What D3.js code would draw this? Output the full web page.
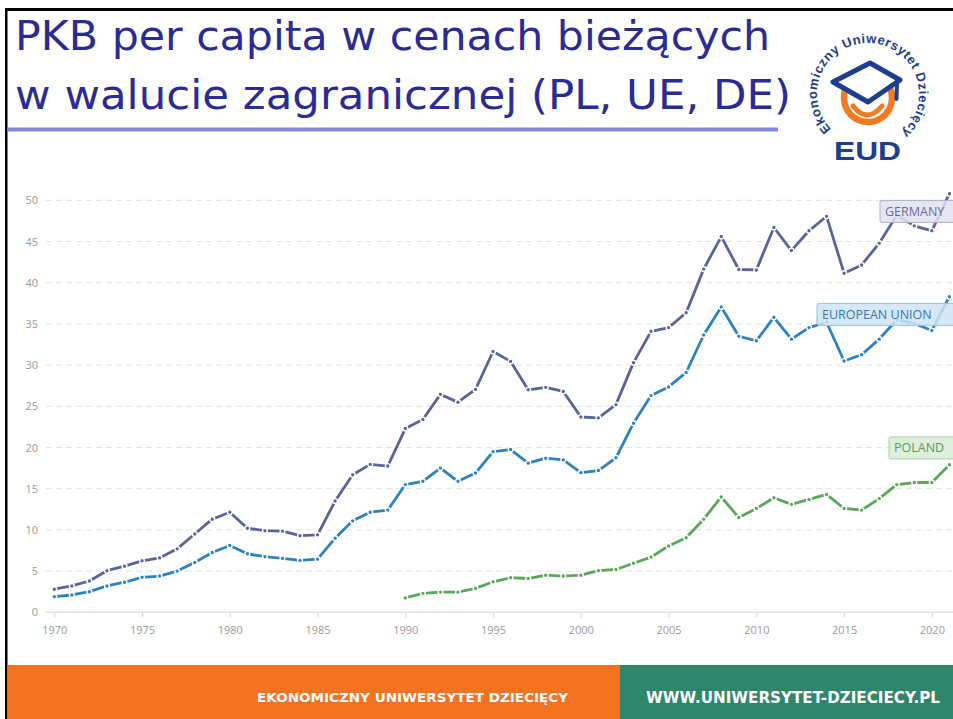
<!DOCTYPE html>
<html>
<head>
<meta charset="utf-8">
<script src="https://cdn.jsdelivr.net/npm/d3@7"></script>
<style>
  body { margin: 0; background: #fff; }
  svg { display: block; }
</style>
</head>
<body>
<div id="chart"></div>
<script>
// values, thousands of USD per person
const years = d3.range(1970, 2022)
const germany = [2.8, 3.2, 3.8, 5.05, 5.6, 6.25, 6.6, 7.7, 9.5, 11.3, 12.15, 10.2, 9.9, 9.85, 9.3, 9.4,
  13.5, 16.7, 17.95, 17.75, 22.3, 23.4, 26.45, 25.5, 27.05, 31.65, 30.45, 27.0, 27.3, 26.8,
  23.7, 23.6, 25.2, 30.3, 34.1, 34.55, 36.35, 41.65, 45.6, 41.6, 41.55, 46.7, 43.9, 46.3,
  48.05, 41.15, 42.15, 44.8, 48.2, 46.9, 46.3, 50.8]
const eu = [1.9, 2.1, 2.5, 3.2, 3.65, 4.25, 4.4, 5.0, 6.05, 7.25, 8.1, 7.1, 6.75, 6.55, 6.3, 6.45,
  9.0, 11.1, 12.15, 12.4, 15.5, 15.9, 17.5, 15.9, 16.9, 19.5, 19.75, 18.1, 18.7, 18.5,
  16.95, 17.2, 18.75, 22.95, 26.3, 27.35, 29.1, 33.65, 37.05, 33.5, 32.95, 35.8, 33.15, 34.55,
  35.2, 30.5, 31.25, 33.15, 35.5, 35.05, 34.2, 38.3]
const poland = [null, null, null, null, null, null, null, null, null, null, null, null, null, null, null, null,
  null, null, null, null, 1.75, 2.3, 2.45, 2.45, 2.9, 3.7, 4.2, 4.1, 4.5, 4.4,
  4.5, 5.05, 5.2, 5.95, 6.7, 8.05, 9.05, 11.3, 14.0, 11.5, 12.6, 13.9, 13.1, 13.7,
  14.3, 12.6, 12.4, 13.8, 15.5, 15.75, 15.75, 17.9]
const seriesNames = ["GERMANY", "EUROPEAN UNION", "POLAND"]
const yTicks = d3.range(0, 55, 5)
const xTicks = d3.range(1970, 2025, 5)

const W = 953, H = 719
const svg = d3.select("#chart").append("svg")
  .attr("width", W)
  .attr("height", H)

// slide frame
svg.append("rect").attr("x", 5).attr("y", 8).attr("width", W - 5).attr("height", 3).attr("fill", "#000")
svg.append("rect").attr("x", 5).attr("y", 8).attr("width", 2.5).attr("height", H - 8).attr("fill", "#000")

// title
let title = svg.append("g")
  .attr("font-family", "DejaVu Sans")
  .attr("font-size", 40)
  .attr("fill", "#2b2b96")
title.append("text").attr("x", 15).attr("y", 50)
  .attr("textLength", 755).attr("lengthAdjust", "spacingAndGlyphs")
  .text("PKB per capita w cenach bieżących")
title.append("text").attr("x", 15).attr("y", 109)
  .attr("textLength", 776).attr("lengthAdjust", "spacingAndGlyphs")
  .text("w walucie zagranicznej (PL, UE, DE)")
svg.append("rect").attr("x", 7).attr("y", 127.5).attr("width", 771).attr("height", 4).attr("fill", "#8585dc")

// logo
let logo = svg.append("g").attr("transform", "translate(868, 94)")
let navy = "#1d3d8f", orange = "#f47a20"

// circular caption, one letter at a time
let r = 51
let a0 = -134 * Math.PI / 180, a1 = 139 * Math.PI / 180
let caption = "Ekonomiczny Uniwersytet Dziecięcy".split("").map(c => c == " " ? "\u00a0" : c)
let capG = logo.append("g")
  .attr("font-family", "Liberation Sans")
  .attr("font-weight", "bold")
  .attr("font-size", 13)
  .attr("fill", navy)
let letters = capG.selectAll("text").data(caption).join("text")
  .attr("text-anchor", "middle")
  .text(d => d)
let widths = []
letters.each(function() { widths.push(this.getComputedTextLength()) })
let gap = (r * (a1 - a0) - d3.sum(widths)) / (caption.length - 1)
let run = 0
letters.attr("transform", (d, i) => {
  let t = a0 + (run + widths[i] / 2) / r
  run += widths[i] + gap
  let deg = t * 180 / Math.PI
  return `translate(${r * Math.sin(t)},${-r * Math.cos(t)}) rotate(${deg})`
})

logo.append("circle").attr("cx", 0).attr("cy", 4).attr("r", 24)
  .attr("fill", "none").attr("stroke", orange).attr("stroke-width", 6.5)
logo.append("path").attr("d", "M-15,12 Q-1,30 14,12")
  .attr("fill", "none").attr("stroke", orange).attr("stroke-width", 5).attr("stroke-linecap", "round")
logo.append("path").attr("d", "M2,-31 L-35,-12 L0,8 L32,-14 Z")
  .attr("fill", "#fff").attr("stroke", navy).attr("stroke-width", 5).attr("stroke-linejoin", "round")
logo.append("path").attr("d", "M29,-12 L28.5,5")
  .attr("stroke", navy).attr("stroke-width", 4).attr("stroke-linecap", "round")
logo.append("text")
  .attr("x", -34).attr("y", 66)
  .attr("textLength", 67).attr("lengthAdjust", "spacingAndGlyphs")
  .attr("font-family", "Liberation Sans")
  .attr("font-weight", "bold")
  .attr("font-size", 26)
  .attr("fill", navy)
  .text("EUD")

// chart
let x = d3.scaleLinear().domain([1970, 2021]).range([54.3, 949.4])
let y = d3.scaleLinear().domain([0, 50]).range([612.3, 200.3])

let grid = svg.append("g")
grid.selectAll("line").data(yTicks.filter(d => d > 0)).join("line")
  .attr("x1", 46).attr("x2", W)
  .attr("y1", d => y(d)).attr("y2", d => y(d))
  .attr("stroke", "#e2e2e2")
  .attr("stroke-dasharray", "6,4")

svg.append("line")
  .attr("x1", 46).attr("x2", W)
  .attr("y1", y(0)).attr("y2", y(0))
  .attr("stroke", "#dde2ea").attr("stroke-width", 1.5)

let yAxis = svg.append("g")
  .attr("transform", "translate(38,0)")
  .call(d3.axisLeft(y).tickValues(yTicks).tickSize(0).tickPadding(0))
  .call(g => g.select(".domain").remove())
  .call(g => g.selectAll(".tick text")
    .attr("font-family", "Open Sans")
    .attr("font-size", 11)
    .attr("fill", "#9a9a9a"))

let xAxis = svg.append("g")
  .attr("transform", `translate(0,${y(0) + 1})`)
  .call(d3.axisBottom(x).tickValues(xTicks).tickSize(4).tickPadding(9).tickFormat(d3.format("d")))
  .call(g => g.select(".domain").remove())
  .call(g => g.selectAll(".tick line").attr("stroke", "#d0d0d0"))
  .call(g => g.selectAll(".tick text")
    .attr("font-family", "Open Sans")
    .attr("font-size", 11)
    .attr("fill", "#9a9a9a"))

let series = [
  { name: seriesNames[0], values: germany, color: "#596599" },
  { name: seriesNames[1], values: eu, color: "#2d82c0" },
  { name: seriesNames[2], values: poland, color: "#5ea55c" }
]

let line = d3.line()
  .defined(d => d.v != null)
  .x(d => x(d.year))
  .y(d => y(d.v))

series.forEach(s => {
  let pts = years.map((year, i) => ({ year, v: s.values[i] }))
  let g = svg.append("g")
  g.append("path")
    .attr("d", line(pts))
    .attr("fill", "none")
    .attr("stroke", s.color)
    .attr("stroke-width", 2.8)
    .attr("stroke-linejoin", "round")
  g.selectAll("circle").data(pts.filter(d => d.v != null)).join("circle")
    .attr("cx", d => x(d.year))
    .attr("cy", d => y(d.v))
    .attr("r", 2.4)
    .attr("fill", s.color)
    .attr("stroke", "#fff")
    .attr("stroke-width", 1.4)
})

// end labels, placed next to the last point of each series
let labels = [
  { text: seriesNames[0], x0: 880, yv: germany[germany.length - 1] - 2.15, fill: "#e2e2ef", stroke: "#aeb0d0", color: "#6a6d9e" },
  { text: seriesNames[1], x0: 817, yv: eu[eu.length - 1] - 2.15, fill: "#cfe3f3", stroke: "#97c5e8", color: "#2f7ab8" },
  { text: seriesNames[2], x0: 889, yv: poland[poland.length - 1] + 2.05, fill: "#d9ecd8", stroke: "#a5d3a3", color: "#5a9a58" }
]
let lab = svg.append("g").selectAll("g").data(labels).join("g")
  .attr("transform", d => `translate(${d.x0},${y(d.yv)})`)
lab.append("rect")
  .attr("x", 0).attr("y", -11).attr("rx", 2)
  .attr("width", d => W + 4 - d.x0).attr("height", 22)
  .attr("fill", d => d.fill)
  .attr("fill-opacity", 0.85)
  .attr("stroke", d => d.stroke)
lab.append("text")
  .attr("x", 5).attr("y", 4.5)
  .attr("font-family", "Open Sans")
  .attr("font-size", 12.5)
  .attr("fill", d => d.color)
  .text(d => d.text)

// footer
svg.append("rect").attr("x", 7.5).attr("y", 665).attr("width", 620 - 7.5).attr("height", H - 665).attr("fill", "#f47321")
svg.append("rect").attr("x", 620).attr("y", 665).attr("width", W - 620).attr("height", H - 665).attr("fill", "#30866b")
svg.append("text")
  .attr("x", 257).attr("y", 702)
  .attr("textLength", 311).attr("lengthAdjust", "spacingAndGlyphs")
  .attr("font-family", "DejaVu Sans").attr("font-weight", "bold").attr("font-size", 13)
  .attr("fill", "#fff")
  .text("EKONOMICZNY UNIWERSYTET DZIECIĘCY")
svg.append("text")
  .attr("x", 646).attr("y", 703)
  .attr("textLength", 294).attr("lengthAdjust", "spacingAndGlyphs")
  .attr("font-family", "DejaVu Sans").attr("font-weight", "bold").attr("font-size", 15)
  .attr("fill", "#fff")
  .text("WWW.UNIWERSYTET-DZIECIECY.PL")
</script>
</body>
</html>
